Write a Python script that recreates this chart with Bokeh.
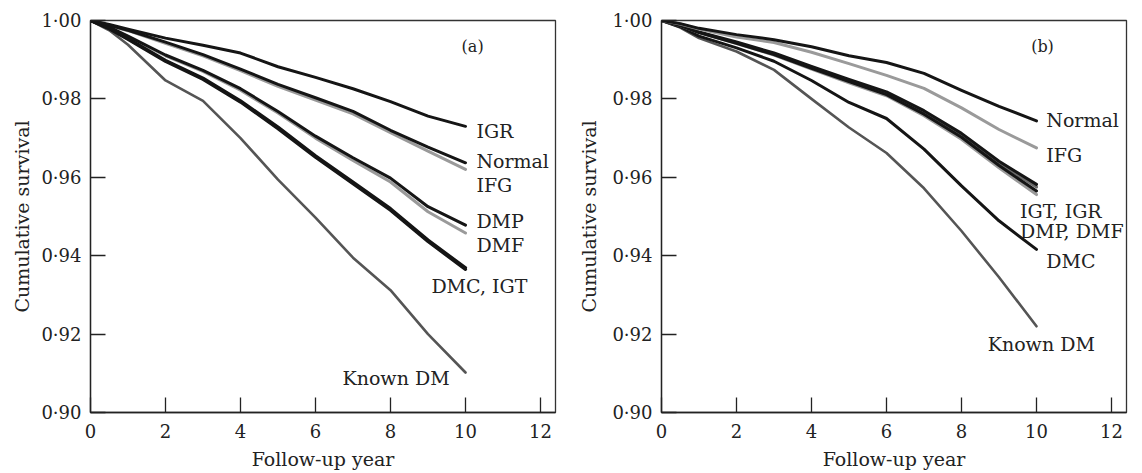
from bokeh.plotting import figure
from bokeh.layouts import row
from bokeh.models import FixedTicker, Label
from bokeh.embed import file_html
from bokeh.resources import INLINE

# ---------------- data ----------------
years = [0, 0.5, 1, 2, 3, 4, 5, 6, 7, 8, 9, 10]

# panel (a)
a_igr    = [1.0, 0.9990, 0.9978, 0.9955, 0.9937, 0.9917, 0.9882, 0.9855, 0.9826, 0.9793, 0.9756, 0.9730]
a_normal = [1.0, 0.9988, 0.9975, 0.9945, 0.9913, 0.9876, 0.9837, 0.9803, 0.9768, 0.9720, 0.9677, 0.9637]
a_ifg    = [1.0, 0.9988, 0.9974, 0.9942, 0.9910, 0.9872, 0.9832, 0.9797, 0.9762, 0.9714, 0.9667, 0.9620]
a_dmp    = [1.0, 0.9983, 0.9960, 0.9912, 0.9873, 0.9826, 0.9768, 0.9705, 0.9650, 0.9598, 0.9525, 0.9478]
a_dmf    = [1.0, 0.9982, 0.9958, 0.9910, 0.9870, 0.9822, 0.9764, 0.9700, 0.9643, 0.9588, 0.9512, 0.9458]
a_dmc    = [1.0, 0.9980, 0.9954, 0.9898, 0.9853, 0.9795, 0.9728, 0.9655, 0.9588, 0.9520, 0.9440, 0.9369]
a_igt    = [1.0, 0.9979, 0.9952, 0.9896, 0.9850, 0.9792, 0.9724, 0.9651, 0.9584, 0.9516, 0.9436, 0.9365]
a_known  = [1.0, 0.9975, 0.9938, 0.9847, 0.9795, 0.9700, 0.9594, 0.9497, 0.9395, 0.9312, 0.9200, 0.9102]

# panel (b)
b_normal = [1.0, 0.9992, 0.9980, 0.9964, 0.9951, 0.9933, 0.9910, 0.9893, 0.9865, 0.9822, 0.9781, 0.9744]
b_ifg    = [1.0, 0.9991, 0.9978, 0.9958, 0.9944, 0.9919, 0.9890, 0.9860, 0.9827, 0.9777, 0.9722, 0.9675]
b_igt    = [1.0, 0.9988, 0.9971, 0.9945, 0.9917, 0.9883, 0.9850, 0.9818, 0.9770, 0.9712, 0.9641, 0.9582]
b_igr    = [1.0, 0.9988, 0.9970, 0.9943, 0.9915, 0.9881, 0.9847, 0.9815, 0.9766, 0.9707, 0.9636, 0.9575]
b_dmp    = [1.0, 0.9987, 0.9969, 0.9942, 0.9913, 0.9878, 0.9844, 0.9811, 0.9761, 0.9702, 0.9630, 0.9565]
b_dmf    = [1.0, 0.9987, 0.9969, 0.9941, 0.9912, 0.9876, 0.9841, 0.9808, 0.9757, 0.9697, 0.9624, 0.9556]
b_dmc    = [1.0, 0.9984, 0.9960, 0.9930, 0.9896, 0.9847, 0.9791, 0.9750, 0.9672, 0.9578, 0.9489, 0.9416]
b_known  = [1.0, 0.9982, 0.9955, 0.9921, 0.9874, 0.9800, 0.9727, 0.9662, 0.9572, 0.9463, 0.9345, 0.9220]

x_ticks = [0, 2, 4, 6, 8, 10, 12]
x_tick_labels = ["0", "2", "4", "6", "8", "10", "12"]
y_ticks = [0.90, 0.92, 0.94, 0.96, 0.98, 1.00]
y_tick_labels = ["0·90", "0·92", "0·94", "0·96", "0·98", "1·00"]

# ---------------- styling ----------------
FONT = "DejaVu Serif"
TXT = "#222222"
BLACK = "#151515"
GREY = "#9a9a9a"
DARKGREY = "#555555"


def make_fig(left, right, ylab_standoff):
    p = figure(frame_width=465, frame_height=392, x_range=(0, 12.4), y_range=(0.90, 1.00),
               output_backend="svg", toolbar_location=None,
               min_border_left=left, min_border_right=right,
               min_border_top=20, min_border_bottom=50)
    p.xgrid.visible = False
    p.ygrid.visible = False
    p.outline_line_color = "#333333"
    p.outline_line_width = 1.3
    p.background_fill_color = "white"
    p.border_fill_color = "white"
    for ax in (p.xaxis[0], p.yaxis[0]):
        ax.axis_line_color = "#222222"
        ax.axis_line_width = 1.3
        ax.major_tick_line_color = "#222222"
        ax.major_tick_line_width = 1.3
        ax.major_tick_in = 15
        ax.major_tick_out = 0
        ax.minor_tick_line_color = None
        ax.major_label_text_font = FONT
        ax.major_label_text_font_size = "18px"
        ax.major_label_text_color = TXT
        ax.axis_label_text_font = FONT
        ax.axis_label_text_font_size = "19px"
        ax.axis_label_text_font_style = "normal"
        ax.axis_label_text_color = TXT
    p.xaxis.ticker = FixedTicker(ticks=x_ticks)
    p.xaxis.major_label_overrides = dict(zip(x_ticks, x_tick_labels))
    p.yaxis.ticker = FixedTicker(ticks=y_ticks)
    p.yaxis.major_label_overrides = dict(zip(y_ticks, y_tick_labels))
    p.xaxis.major_label_standoff = 11
    p.yaxis.major_label_standoff = 9
    p.xaxis.axis_label_standoff = 7
    p.yaxis.axis_label_standoff = ylab_standoff
    p.xaxis.axis_label = "Follow-up year"
    p.yaxis.axis_label = "Cumulative survival"
    return p


def curve(p, ys, color, w):
    p.line(years, ys, line_color=color, line_width=w, line_join="round", line_cap="round")


def lab(p, x, y, t, size="19px", align="left"):
    p.add_layout(Label(x=x, y=y, text=t, text_font=FONT, text_font_size=size,
                       text_color=TXT, text_align=align, text_baseline="middle"))


# ---------------- panel (a) ----------------
pa = make_fig(90, 20, 5)
curve(pa, a_known, DARKGREY, 2.6)
curve(pa, a_dmf, GREY, 3)
curve(pa, a_ifg, GREY, 3)
curve(pa, a_dmc, BLACK, 3.2)
curve(pa, a_igt, BLACK, 3.2)
curve(pa, a_dmp, BLACK, 3)
curve(pa, a_normal, BLACK, 3)
curve(pa, a_igr, BLACK, 3)

lab(pa, 10.19, 0.9933, "(a)", "16px", "center")
lab(pa, 10.29, 0.97172, "IGR")
lab(pa, 10.29, 0.96408, "Normal")
lab(pa, 10.29, 0.95814, "IFG")
lab(pa, 10.29, 0.94879, "DMP")
lab(pa, 10.29, 0.94285, "DMF")
lab(pa, 9.09, 0.93223, "DMC, IGT")
lab(pa, 6.72, 0.90872, "Known DM")

# ---------------- panel (b) ----------------
pb = make_fig(81, 5, 9)
curve(pb, b_known, DARKGREY, 2.6)
curve(pb, b_dmc, BLACK, 3)
curve(pb, b_dmf, GREY, 3)
curve(pb, b_igr, "#6a6a6a", 3)
curve(pb, b_dmp, BLACK, 3)
curve(pb, b_igt, BLACK, 3)
curve(pb, b_ifg, GREY, 3)
curve(pb, b_normal, BLACK, 3)

lab(pb, 10.16, 0.9933, "(b)", "16px", "center")
lab(pb, 10.26, 0.97452, "Normal")
lab(pb, 10.26, 0.96578, "IFG")
lab(pb, 9.56, 0.95152, "IGT, IGR")
lab(pb, 9.56, 0.94642, "DMP, DMF")
lab(pb, 10.26, 0.9386, "DMC")
lab(pb, 8.70, 0.91738, "Known DM")

layout = row(pa, pb)
open("out.html", "w").write(file_html(layout, INLINE))
